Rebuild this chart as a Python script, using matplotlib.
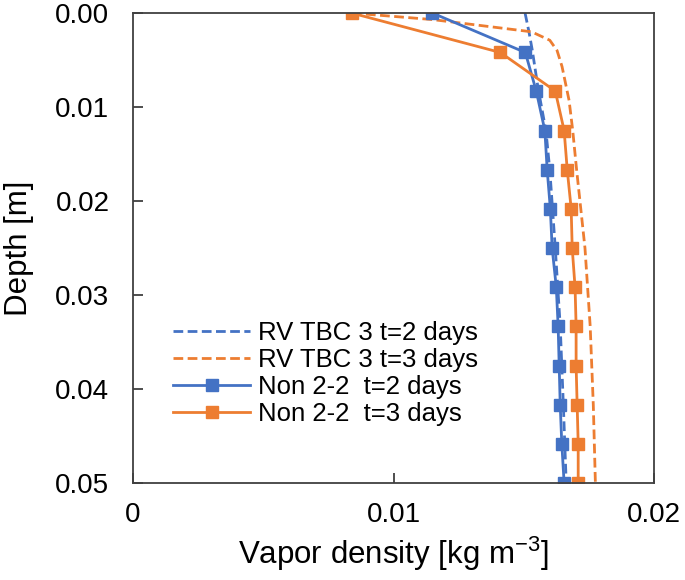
import matplotlib
matplotlib.use('Agg')
import matplotlib.pyplot as plt

plt.rcParams['font.family'] = ['Liberation Sans', 'DejaVu Sans']
plt.rcParams['mathtext.fontset'] = 'custom'
plt.rcParams['mathtext.rm'] = 'Liberation Sans'

BLUE = '#4472C4'
ORANGE = '#ED7D31'

# Non 2-2 model, sampled nodes
depth_nodes = [0, 0.0042, 0.0083, 0.0125, 0.0167, 0.0208, 0.025,
               0.0292, 0.0333, 0.0375, 0.0417, 0.0458, 0.05]
non_t2 = [0.01149, 0.01506, 0.01548, 0.01581, 0.0159, 0.01602, 0.01609,
          0.01625, 0.01632, 0.01636, 0.0164, 0.01646, 0.01655]
non_t3 = [0.00839, 0.0141, 0.01621, 0.01655, 0.01667, 0.01682, 0.01686,
          0.01697, 0.01701, 0.01701, 0.01705, 0.01709, 0.01709]

# RV TBC 3 model, continuous profiles
depth_rv2 = [0, 0.002, 0.004, 0.008, 0.0125, 0.0167, 0.025, 0.0333, 0.0417, 0.05]
rv_t2 = [0.01505, 0.0152, 0.01533, 0.01555, 0.01585, 0.016, 0.01621,
         0.0164, 0.01652, 0.01663]
depth_rv3 = [0, 0.0007, 0.002, 0.0029, 0.004, 0.0057, 0.0093, 0.0125,
             0.0167, 0.025, 0.0333, 0.0417, 0.05]
rv_t3 = [0.0084, 0.0115, 0.0153, 0.016, 0.01628, 0.01647, 0.01674, 0.01688,
         0.01703, 0.01735, 0.01755, 0.01767, 0.01775]

fig = plt.figure(figsize=(6.85, 5.8), dpi=100)
ax = fig.add_axes([133/685, 97/580, 521/685, 470/580])

dash = (0, (3.5, 1.6))
ax.plot(rv_t2, depth_rv2, color=BLUE, lw=2.0, ls=dash, label='RV TBC 3 t=2 days')
ax.plot(rv_t3, depth_rv3, color=ORANGE, lw=2.0, ls=dash, label='RV TBC 3 t=3 days')
ax.plot(non_t2, depth_nodes, color=BLUE, lw=2.0, marker='s', ms=8,
        label='Non 2-2  t=2 days')
ax.plot(non_t3, depth_nodes, color=ORANGE, lw=2.0, marker='s', ms=8,
        label='Non 2-2  t=3 days')

ax.set_xlim(0, 0.02)
ax.set_ylim(0.05, 0)
ax.set_xticks([0, 0.01, 0.02])
ax.set_xticklabels(['0', '0.01', '0.02'])
ax.set_yticks([0, 0.01, 0.02, 0.03, 0.04, 0.05])
ax.set_yticklabels(['0.00', '0.01', '0.02', '0.03', '0.04', '0.05'])

for s in ax.spines.values():
    s.set_color('#404040')
    s.set_linewidth(1.3)
ax.tick_params(direction='in', length=7, width=1.3, color='#404040',
               labelsize=20)
ax.tick_params(axis='x', pad=14)
ax.tick_params(axis='y', pad=17)

ax.set_xlabel('Vapor density [kg m$^{-3}$]', fontsize=22.5)
ax.set_ylabel('Depth [m]', fontsize=22.5)
ax.xaxis.set_label_coords(0.5, -0.11)
ax.yaxis.set_label_coords(-0.19, 0.5)

ax.legend(loc='center left', bbox_to_anchor=(0.077, 0.233), frameon=False,
          fontsize=18.5, handlelength=3.0, handletextpad=0.3, labelspacing=0.12,
          borderpad=0, borderaxespad=0)

fig.savefig('out.png', dpi=100)
